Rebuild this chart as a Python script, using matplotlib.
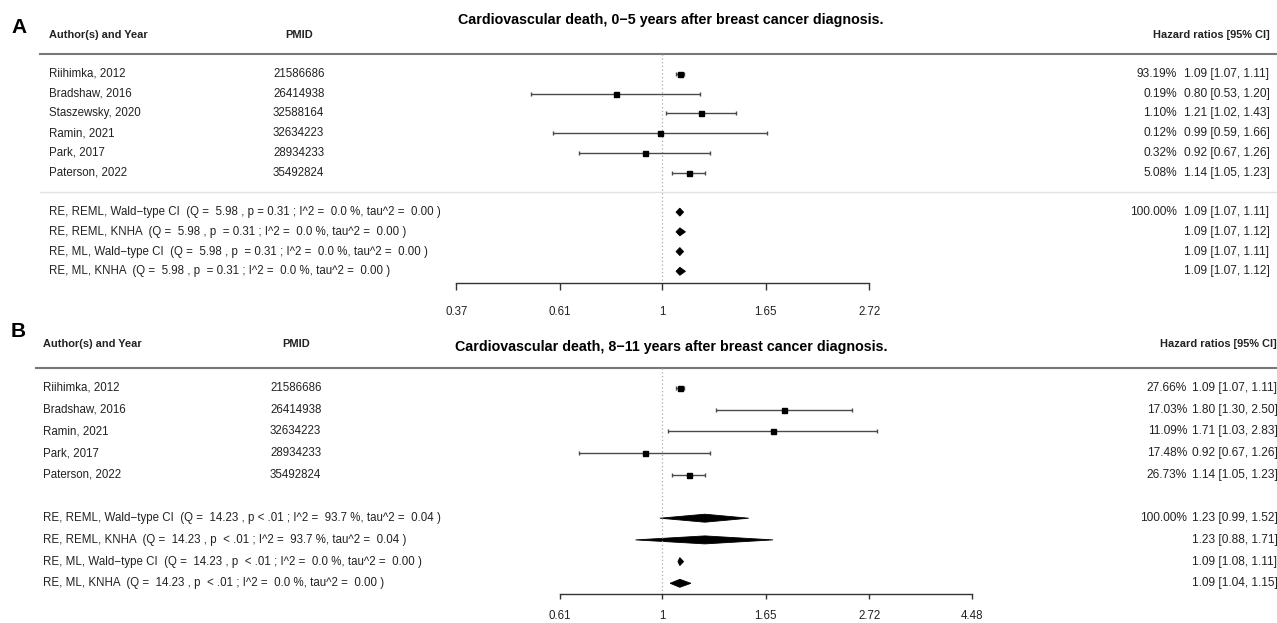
import numpy as np
import matplotlib
matplotlib.use("Agg")
import matplotlib.pyplot as plt
from matplotlib.transforms import blended_transform_factory

plt.rcParams["font.family"] = ["Liberation Sans", "DejaVu Sans"]

W_PX, H_PX = 1277, 623

# ---- panel A: 0-5 years ----
a_title = "Cardiovascular death, 0\u22125 years after breast cancer diagnosis."
a_authors = ["Riihimka, 2012", "Bradshaw, 2016", "Staszewsky, 2020",
             "Ramin, 2021", "Park, 2017", "Paterson, 2022"]
a_pmid = ["21586686", "26414938", "32588164", "32634223", "28934233", "35492824"]
a_hr = [1.09, 0.80, 1.21, 0.99, 0.92, 1.14]
a_lo = [1.07, 0.53, 1.02, 0.59, 0.67, 1.05]
a_hi = [1.11, 1.20, 1.43, 1.66, 1.26, 1.23]
a_weight = [93.19, 0.19, 1.10, 0.12, 0.32, 5.08]
a_q = [5.98, 5.98, 5.98, 5.98]
a_p = ["p = 0.31", "p  = 0.31", "p  = 0.31", "p  = 0.31"]
a_i2 = [0.0, 0.0, 0.0, 0.0]
a_tau2 = [0.00, 0.00, 0.00, 0.00]
a_s_hr = [1.09, 1.09, 1.09, 1.09]
a_s_lo = [1.07, 1.07, 1.07, 1.07]
a_s_hi = [1.11, 1.12, 1.11, 1.12]
a_ticks = [0.37, 0.61, 1, 1.65, 2.72]

# ---- panel B: 8-11 years ----
b_title = "Cardiovascular death, 8\u221211 years after breast cancer diagnosis."
b_authors = ["Riihimka, 2012", "Bradshaw, 2016", "Ramin, 2021", "Park, 2017", "Paterson, 2022"]
b_pmid = ["21586686", "26414938", "32634223", "28934233", "35492824"]
b_hr = [1.09, 1.80, 1.71, 0.92, 1.14]
b_lo = [1.07, 1.30, 1.03, 0.67, 1.05]
b_hi = [1.11, 2.50, 2.83, 1.26, 1.23]
b_weight = [27.66, 17.03, 11.09, 17.48, 26.73]
b_q = [14.23, 14.23, 14.23, 14.23]
b_p = ["p < .01", "p  < .01", "p  < .01", "p  < .01"]
b_i2 = [93.7, 93.7, 0.0, 0.0]
b_tau2 = [0.04, 0.04, 0.00, 0.00]
b_s_hr = [1.23, 1.23, 1.09, 1.09]
b_s_lo = [0.99, 0.88, 1.08, 1.04]
b_s_hi = [1.52, 1.71, 1.11, 1.15]
b_ticks = [0.61, 1, 1.65, 2.72, 4.48]

methods = ["RE, REML, Wald\u2212type CI", "RE, REML, KNHA",
           "RE, ML, Wald\u2212type CI", "RE, ML, KNHA"]

# x mapping: HR = 1 at 662 px, 207 px per log unit
X0_PX, X_SCALE = 662, 207
XLIM = (np.exp(-X0_PX / X_SCALE), np.exp((W_PX - X0_PX) / X_SCALE))

TXT = "#222222"
BODY = 8.3
RIGHT = 8.6
HEAD = 7.9


def fx(px):
    return px / W_PX


def draw_panel(fig, lay, title, authors, pmid, hr, lo, hi, weight,
               q, p, i2, tau2, s_hr, s_lo, s_hi, ticks):
    top, bot = lay["top"], lay["bot"]
    ax = fig.add_axes([0, 1 - bot / H_PX, 1, (bot - top) / H_PX])
    ax.patch.set_visible(False)
    ax.set_xscale("log")
    ax.set_xlim(*XLIM)
    r0, step = lay["row0"], lay["step"]
    ax.set_ylim((bot - r0) / step, (top - r0) / step)
    row = lambda px: (px - r0) / step
    tr = blended_transform_factory(ax.transAxes, ax.transData)

    n = len(authors)
    rows = np.arange(n)
    srows = np.arange(n + 1, n + 5)

    # headers
    ax.text(fx(lay["left"]), row(lay["head"]), "Author(s) and Year", transform=tr,
            ha="left", va="center", fontsize=HEAD, fontweight="bold", color=TXT)
    ax.text(fx(lay["pmid_c"]), row(lay["head"]), "PMID", transform=tr,
            ha="center", va="center", fontsize=HEAD, fontweight="bold", color=TXT)
    ax.text(fx(lay["hr_head"]), row(lay["head"]), "Hazard ratios [95% CI]", transform=tr,
            ha="left", va="center", fontsize=HEAD, fontweight="bold", color=TXT)
    ax.text(fx(671), row(lay["title"]), title, transform=tr, ha="center", va="center",
            fontsize=10.3, fontweight="bold", color="black")
    ax.axhline(row(lay["hline"]), xmin=fx(lay["line_x"]), xmax=1, color="#777777", lw=1.5)
    if lay.get("sep") is not None:
        ax.axhline(row(lay["sep"]), xmin=fx(lay["line_x"]), xmax=1, color="#e3e3e3", lw=1)

    r_axis = row(lay["axis"])
    ax.vlines(1, row(lay["hline"]), r_axis, colors="#aaaaaa", linestyles=(0, (1, 2)), lw=0.9)

    # studies
    for k in range(n):
        ax.text(fx(lay["left"]), rows[k], authors[k], transform=tr, ha="left", va="center",
                fontsize=BODY, color=TXT)
        ax.text(fx(lay["pmid_x"]), rows[k], pmid[k], transform=tr, ha="left", va="center",
                fontsize=BODY, color=TXT)
        ax.text(fx(lay["pct_r"]), rows[k], f"{weight[k]:.2f}%", transform=tr, ha="right",
                va="center", fontsize=RIGHT, color=TXT)
        ax.text(fx(lay["hr_x"]), rows[k], f"{hr[k]:.2f} [{lo[k]:.2f}, {hi[k]:.2f}]",
                transform=tr, ha="left", va="center", fontsize=RIGHT, color=TXT)
    hr_a, lo_a, hi_a = map(np.asarray, (hr, lo, hi))
    ax.errorbar(hr_a, rows, xerr=[hr_a - lo_a, hi_a - hr_a], fmt="s", ms=3.6,
                mfc="black", mec="black", ecolor="#4a4a4a", elinewidth=1.0,
                capsize=1.6, capthick=1.0)

    # summaries
    dh = 4.0 / step
    for k in range(4):
        label = (f"{methods[k]}  (Q =  {q[k]:.2f} , {p[k]} ; I^2 =  {i2[k]:.1f} %, "
                 f"tau^2 =  {tau2[k]:.2f} )")
        ax.text(fx(lay["left"]), srows[k], label, transform=tr, ha="left", va="center",
                fontsize=BODY, color=TXT)
        if k == 0:
            ax.text(fx(lay["pct_r"]), srows[k], "100.00%", transform=tr, ha="right",
                    va="center", fontsize=RIGHT, color=TXT)
        ax.text(fx(lay["hr_x"]), srows[k], f"{s_hr[k]:.2f} [{s_lo[k]:.2f}, {s_hi[k]:.2f}]",
                transform=tr, ha="left", va="center", fontsize=RIGHT, color=TXT)
        ax.fill([s_lo[k], s_hr[k], s_hi[k], s_hr[k]],
                [srows[k], srows[k] - dh, srows[k], srows[k] + dh],
                color="black", lw=0.6)

    # x axis
    for s in ("top", "left", "right"):
        ax.spines[s].set_visible(False)
    sp = ax.spines["bottom"]
    sp.set_position(("data", r_axis))
    sp.set_bounds(ticks[0], ticks[-1])
    sp.set_color("#333333")
    sp.set_linewidth(1.0)
    ax.set_xticks(ticks)
    ax.set_xticklabels([f"{t:g}" for t in ticks])
    ax.xaxis.set_minor_locator(matplotlib.ticker.NullLocator())
    ax.tick_params(axis="x", direction="out", length=lay["tick_len"], width=1.0,
                   color="#333333", pad=lay["tick_pad"], labelsize=BODY, labelcolor=TXT)
    ax.set_yticks([])
    return ax


fig = plt.figure(figsize=(W_PX / 100, H_PX / 100), dpi=100)

lay_a = dict(top=0, bot=315, row0=74, step=19.73, left=49, pmid_x=273, pmid_c=299,
             pct_r=1177, hr_x=1184, hr_head=1153, head=35.5, title=20, hline=54,
             sep=192, line_x=40, axis=282.5, tick_len=5, tick_pad=12)
lay_b = dict(top=315, bot=623, row0=388, step=21.7, left=43, pmid_x=270, pmid_c=296,
             pct_r=1187, hr_x=1192, hr_head=1160, head=344, title=347, hline=368,
             sep=None, line_x=36, axis=594, tick_len=3.6, tick_pad=8)

draw_panel(fig, lay_a, a_title, a_authors, a_pmid, a_hr, a_lo, a_hi, a_weight,
           a_q, a_p, a_i2, a_tau2, a_s_hr, a_s_lo, a_s_hi, a_ticks)
draw_panel(fig, lay_b, b_title, b_authors, b_pmid, b_hr, b_lo, b_hi, b_weight,
           b_q, b_p, b_i2, b_tau2, b_s_hr, b_s_lo, b_s_hi, b_ticks)

fig.text(fx(11), 1 - 27.5 / H_PX, "A", fontsize=15, fontweight="bold", ha="left", va="center")
fig.text(fx(11), 1 - 331.5 / H_PX, "B", fontsize=15, fontweight="bold", ha="left", va="center")

fig.savefig("out.png", dpi=100)
